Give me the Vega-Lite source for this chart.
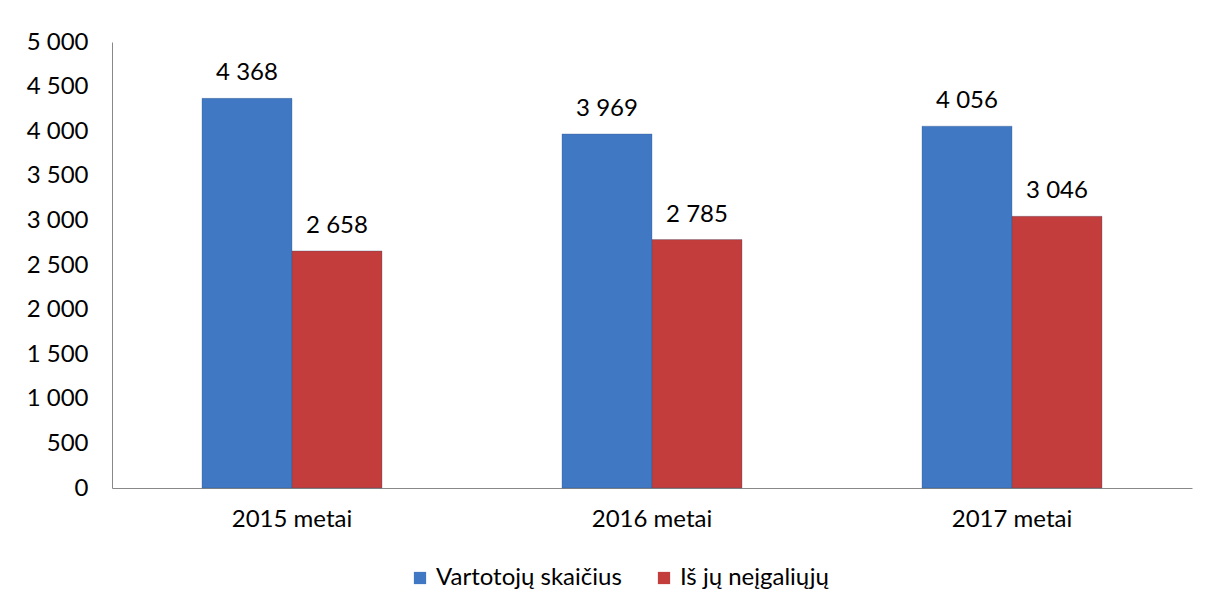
{
  "$schema": "https://vega.github.io/schema/vega-lite/v6.json",
  "width": 1080,
  "height": 446,
  "autosize": {"type": "none"},
  "padding": {"left": 112, "top": 42, "right": 18, "bottom": 123},
  "background": "white",
  "config": {
    "locale": {"number": {"decimal": ",", "thousands": " ", "grouping": [3], "currency": ["", " €"]}},
    "view": {"stroke": null},
    "font": "Lato",
    "axis": {"labelFont": "Lato", "labelColor": "#000000", "labelFontSize": 24, "domainColor": "#888888", "ticks": false, "grid": false, "title": null},
    "legend": {"labelFont": "Lato", "labelFontSize": 24, "labelColor": "#000000", "labelLimit": 0}
  },
  "data": {
    "values": [
      {"year": "2015 metai", "series": "Vartotojų skaičius", "value": 4368},
      {"year": "2015 metai", "series": "Iš jų neįgaliųjų", "value": 2658},
      {"year": "2016 metai", "series": "Vartotojų skaičius", "value": 3969},
      {"year": "2016 metai", "series": "Iš jų neįgaliųjų", "value": 2785},
      {"year": "2017 metai", "series": "Vartotojų skaičius", "value": 4056},
      {"year": "2017 metai", "series": "Iš jų neįgaliųjų", "value": 3046}
    ]
  },
  "encoding": {
    "x": {"field": "year", "type": "nominal", "sort": null,
          "scale": {"paddingInner": 0.5, "paddingOuter": 0.25},
          "axis": {"labelAngle": 0, "labelPadding": 19, "domainWidth": 1}},
    "xOffset": {"field": "series", "type": "nominal", "sort": ["Vartotojų skaičius", "Iš jų neįgaliųjų"], "scale": {"paddingInner": 0, "paddingOuter": 0}},
    "y": {"field": "value", "type": "quantitative",
          "scale": {"domain": [0, 5000], "nice": false},
          "axis": {"values": [0, 500, 1000, 1500, 2000, 2500, 3000, 3500, 4000, 4500, 5000], "format": ",d", "labelPadding": 24}}
  },
  "layer": [
    {
      "mark": {"type": "bar", "stroke": "#2f4f7a", "strokeOpacity": 0.3, "strokeWidth": 1},
      "encoding": {
        "color": {"field": "series", "type": "nominal", "sort": ["Vartotojų skaičius", "Iš jų neįgaliųjų"],
                  "scale": {"domain": ["Vartotojų skaičius", "Iš jų neįgaliųjų"], "range": ["#4178C4", "#C23D3B"]},
                  "legend": {"title": null, "orient": "none", "legendX": 296, "legendY": 524, "direction": "horizontal", "symbolType": "square", "symbolSize": 150, "symbolStrokeWidth": 0, "labelOffset": 4, "columnPadding": 30}}
      }
    },
    {
      "mark": {"type": "text", "baseline": "bottom", "dy": -13, "fontSize": 24, "color": "#000000"},
      "encoding": {"text": {"field": "value", "type": "quantitative", "format": ",d"}}
    }
  ]
}
